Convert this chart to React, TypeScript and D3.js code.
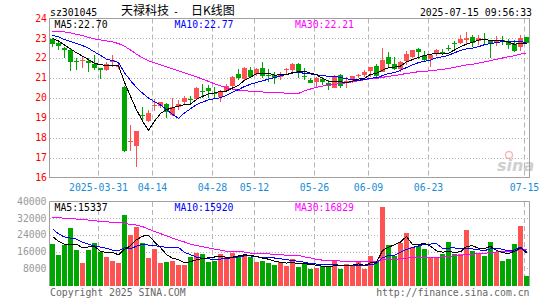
import React from 'react';
import * as d3 from 'd3';

// ---- data (index 0 = 2025-03-19, index 79 = 2025-07-15) ----
const opens = [22.97,22.77,22.5,22.4,21.85,21.83,21.83,21.67,21.47,21.38,21.8,21.57,20.55,17.8,17.6,19.13,18.83,19.58,19.6,19.7,19.13,19.55,19.77,19.95,19.93,20.33,20.5,20.25,20.02,20.33,20.6,21.17,20.95,21.38,21.17,21.5,21.15,21.13,21.05,21.38,21.38,21.67,21.1,20.88,20.8,20.92,20.75,20.5,21.13,20.78,20.88,21.1,21.13,21.33,21.58,21.3,22.02,21.7,21.43,21.85,22.05,22.45,22.13,21.92,22.2,22.3,22.5,22.75,22.75,22.88,23.05,22.83,22.93,22.88,22.83,22.88,22.8,22.72,22.55,23.05];
const highs = [23.02,22.85,22.55,22.47,21.97,22.03,21.97,22.13,21.48,21.8,22.13,21.8,20.58,18.63,18.35,19.55,19.38,19.93,19.8,19.75,19.97,19.88,20.07,20.1,20.55,20.67,20.65,20.55,20.38,20.7,21.1,21.42,21.55,21.55,21.5,21.8,21.42,21.3,21.3,21.5,21.72,21.72,21.5,20.97,21.05,21.05,20.88,21.13,21.2,21.05,21.1,21.2,21.38,21.55,21.67,22.5,22.27,22.05,21.85,22.33,22.4,22.5,22.33,22.17,22.43,22.47,22.67,22.83,23.13,23.3,23.13,23.13,23.27,22.88,23.1,23.1,22.93,22.88,23.17,23.05];
const lows = [22.55,22.42,22.0,21.33,21.37,21.47,21.3,21.38,20.92,21.33,21.55,21.42,17.28,17.33,16.55,18.8,18.77,19.33,19.47,18.97,19.1,19.38,19.63,19.72,19.88,19.97,20.0,19.97,19.8,20.27,20.55,20.88,20.88,20.97,21.1,21.0,20.8,20.67,20.88,21.2,21.3,21.0,20.88,20.72,20.55,20.63,20.38,20.47,20.5,20.5,20.72,21.0,21.05,21.05,21.0,21.27,21.47,21.38,21.3,21.65,22.0,21.95,21.85,21.55,22.1,22.17,22.33,22.37,22.72,22.72,22.57,22.63,22.72,22.0,22.6,22.67,22.47,22.3,22.33,22.72];
const closes = [22.68,22.58,22.4,21.8,21.8,21.87,21.72,21.47,21.4,21.67,21.9,21.6,17.33,17.83,18.33,19.07,19.25,19.63,19.77,19.3,19.55,19.67,19.97,19.92,20.47,20.3,20.33,20.2,20.27,20.58,21.05,21.0,21.5,21.05,21.42,21.1,21.12,20.97,21.15,21.42,21.67,21.3,21.06,20.75,20.97,20.77,20.6,21.05,20.6,20.82,21.08,21.13,21.27,21.55,21.1,21.88,21.7,21.45,21.8,22.2,22.4,22.27,21.9,22.15,22.37,22.27,22.47,22.72,22.97,23.0,22.75,23.02,22.9,22.72,22.87,22.8,22.67,22.33,23.02,22.75];
const volumes = [19840,14560,19200,27520,16960,10720,16960,20320,15840,13600,11680,10720,33760,24160,28000,20320,13120,17440,10720,11200,11680,9760,9760,13600,15520,15040,11200,11680,15040,13600,15520,13600,14560,13600,11200,11680,10720,9760,11200,9280,12480,8800,10240,7840,8320,9280,8800,11520,7840,10240,9280,11680,7840,13760,11680,37600,19360,14080,20320,25120,18080,18880,17440,13600,13600,15040,20800,15040,15040,26560,16480,15040,14080,20800,16000,11680,12640,19840,28480,4480];

// moving-average values visible before the window is full
const ma5Head = [22.97,22.85,22.65,22.45];
const ma10Head = [23.13,23.05,22.92,22.82,22.72,22.62,22.48,22.3,22.12];
const ma30Head = [23.33,23.32,23.3,23.25,23.18,23.12,23.03,22.95,22.9,22.85,22.8,22.72,22.58,22.4,22.18,22.0,21.85,21.75,21.65,21.55,21.45,21.35,21.25,21.15,21.05,20.93,20.82,20.7,20.6];
const vma5Head = [23200,21000,19500,19200];
const vma10Head = [26900,24500,23000,22500,22000,20500,19500,18700,18200];
const vma30Head = [32400,32200,32000,31800,31600,31400,31100,30800,30500,30300,30000,29800,29600,29000,28700,28000,26800,25600,24600,23600,22500,21500,20600,19600,18900,18300,17800,17200,16700];

const priceTicks = [16,17,18,19,20,21,22,23,24];
const volTicks = [8000,16000,24000,32000,40000];
const dateTickIdx = [8,17,27,34,44,53,63,79];
const dateTickLabels = ['2025-03-31','04-14','04-28','05-12','05-26','06-09','06-23','07-15'];
const priceLegend = ['MA5:22.70','MA10:22.77','MA30:22.21'];
const volLegend = ['MA5:15337','MA10:15920','MA30:16829'];

const RED = '#ff5252';
const GREEN = '#00a600';
const MONO = '"DejaVu Sans Mono", "Liberation Mono", monospace';
const FS = 9.8;

function movingAverage(vals: number[], n: number, head: number[]) {
  return vals.map((_, i) => (i < n - 1 ? head[i] : (d3.mean(vals.slice(i - n + 1, i + 1)) as number)));
}

export default function App() {
  const idx = d3.range(closes.length);
  const x = d3.scaleBand<number>().domain(idx).range([50, 529]).paddingInner(1 / 6).paddingOuter(0).align(0);
  const bw = x.bandwidth();
  const cx = (i: number) => (x(i) as number) + bw / 2;
  const py = d3.scaleLinear().domain([16, 24]).range([177.5, 18]);
  const vy = d3.scaleLinear().domain([0, 40000]).range([285, 201.5]);

  const ma5 = movingAverage(closes, 5, ma5Head);
  const ma10 = movingAverage(closes, 10, ma10Head);
  const ma30 = movingAverage(closes, 30, ma30Head);
  const vma5 = movingAverage(volumes, 5, vma5Head);
  const vma10 = movingAverage(volumes, 10, vma10Head);
  const vma30 = movingAverage(volumes, 30, vma30Head);

  const pLine = d3.line<number>().x((_, i) => cx(i)).y((d) => py(d));
  const vLine = d3.line<number>().x((_, i) => cx(i)).y((d) => vy(d));

  const gridColor = '#b4b4b4';
  const boxColor = '#a0a0a0';
  const legendColors = ['#000000', '#0000ff', '#ff00ff'];
  const legendX = [54.5, 174.5, 295];

  return (
    <svg width={545} height={300} style={{ position: 'absolute', left: 0, top: 0, background: '#fff' }}
      fontFamily={MONO} fontSize={FS}>
      {/* header */}
      <text x={50} y={15.5} fill="#000">sz301045</text>
      <text x={121} y={15} fontFamily='"Noto Sans CJK SC", sans-serif' fontSize={12} fill="#000">天禄科技</text>
      <text x={173} y={15} fill="#000">-</text>
      <text x={191} y={15} fontFamily='"Noto Sans CJK SC", sans-serif' fontSize={12} fill="#000">日K线图</text>
      <text x={532} y={15.5} textAnchor="end" fill="#000">2025-07-15 09:56:33</text>

      {/* gridlines */}
      {priceTicks.filter((t) => t > 16 && t < 24).map((t) => (
        <line key={'pg' + t} x1={50} x2={529} y1={Math.round(py(t)) + 0.5} y2={Math.round(py(t)) + 0.5}
          stroke={gridColor} strokeDasharray="1,2" />
      ))}
      {volTicks.filter((t) => t < 40000).map((t) => (
        <line key={'vg' + t} x1={50} x2={529} y1={Math.round(vy(t)) + 0.5} y2={Math.round(vy(t)) + 0.5}
          stroke={gridColor} strokeDasharray="1,2" />
      ))}
      {dateTickIdx.map((k) => (
        <g key={'dg' + k}>
          <line x1={(x(k) as number) + 0.5} x2={(x(k) as number) + 0.5} y1={18.5} y2={177} stroke={gridColor} strokeDasharray="5,3" />
          <line x1={(x(k) as number) + 0.5} x2={(x(k) as number) + 0.5} y1={202} y2={285.5} stroke={gridColor} strokeDasharray="5,3" />
        </g>
      ))}

      {/* boxes */}
      <rect x={49.5} y={18.5} width={480} height={159} fill="none" stroke={boxColor} />
      <path d="M49.5,286V201.5H529.5V286" fill="none" stroke={boxColor} />

      {/* axis labels */}
      {priceTicks.map((t) => (
        <text key={'pl' + t} x={47} y={py(t) + 3.6} textAnchor="end" fill="#ff0000">{t}</text>
      ))}
      {volTicks.map((t) => (
        <text key={'vl' + t} x={46.5} y={vy(t) + 3.4} textAnchor="end" fill="#999999">{t}</text>
      ))}
      {dateTickIdx.map((k, j) => (
        <text key={'dl' + k} x={(x(k) as number) + 0.5} y={190.5} textAnchor="middle" fill="#1a8cd8">{dateTickLabels[j]}</text>
      ))}

      {/* watermark */}
      <g opacity={0.55}>
        <circle cx={509} cy={155} r={3.5} fill="none" stroke="#f08080" strokeWidth={1.5} />
        <text x={497} y={171} fontFamily='"DejaVu Sans", sans-serif' fontStyle="italic" fontWeight="bold" fontSize={16} fill="#a8a8a8">sina</text>
      </g>

      {/* candles and volume bars */}
      <g shapeRendering="crispEdges">
        {idx.map((i) => {
          const up = closes[i] >= opens[i];
          const col = up ? RED : GREEN;
          const top = py(Math.max(opens[i], closes[i]));
          const bot = py(Math.min(opens[i], closes[i]));
          return (
            <g key={'c' + i}>
              <rect x={(x(i) as number) + 2} width={1} y={py(highs[i])} height={Math.max(1, py(lows[i]) - py(highs[i]))} fill={col} />
              <rect x={x(i)} width={bw} y={top} height={Math.max(1, bot - top)} fill={col} />
            </g>
          );
        })}
        {idx.map((i) => (
          <rect key={'v' + i} x={x(i)} width={bw} y={vy(volumes[i])} height={285.5 - vy(volumes[i])}
            fill={closes[i] >= opens[i] ? RED : GREEN} />
        ))}
      </g>

      {/* MA lines */}
      <g fill="none" strokeWidth={1} shapeRendering="crispEdges">
        <path d={pLine(ma30) as string} stroke="#ff00ff" />
        <path d={pLine(ma10) as string} stroke="#0000ff" />
        <path d={pLine(ma5) as string} stroke="#000000" />
        <path d={vLine(vma30) as string} stroke="#ff00ff" />
        <path d={vLine(vma10) as string} stroke="#0000ff" />
        <path d={vLine(vma5) as string} stroke="#000000" />
      </g>

      {/* legends */}
      {priceLegend.map((s, j) => (
        <text key={'plg' + j} x={legendX[j]} y={27.5} fill={legendColors[j]}>{s}</text>
      ))}
      {volLegend.map((s, j) => (
        <text key={'vlg' + j} x={legendX[j]} y={210.8} fill={legendColors[j]}>{s}</text>
      ))}

      {/* footer */}
      <text x={50} y={296} fill="#666666">Copyright 2025 SINA.COM</text>
      <text x={529.5} y={296} textAnchor="end" fill="#666666">http://finance.sina.com.cn</text>
    </svg>
  );
}
